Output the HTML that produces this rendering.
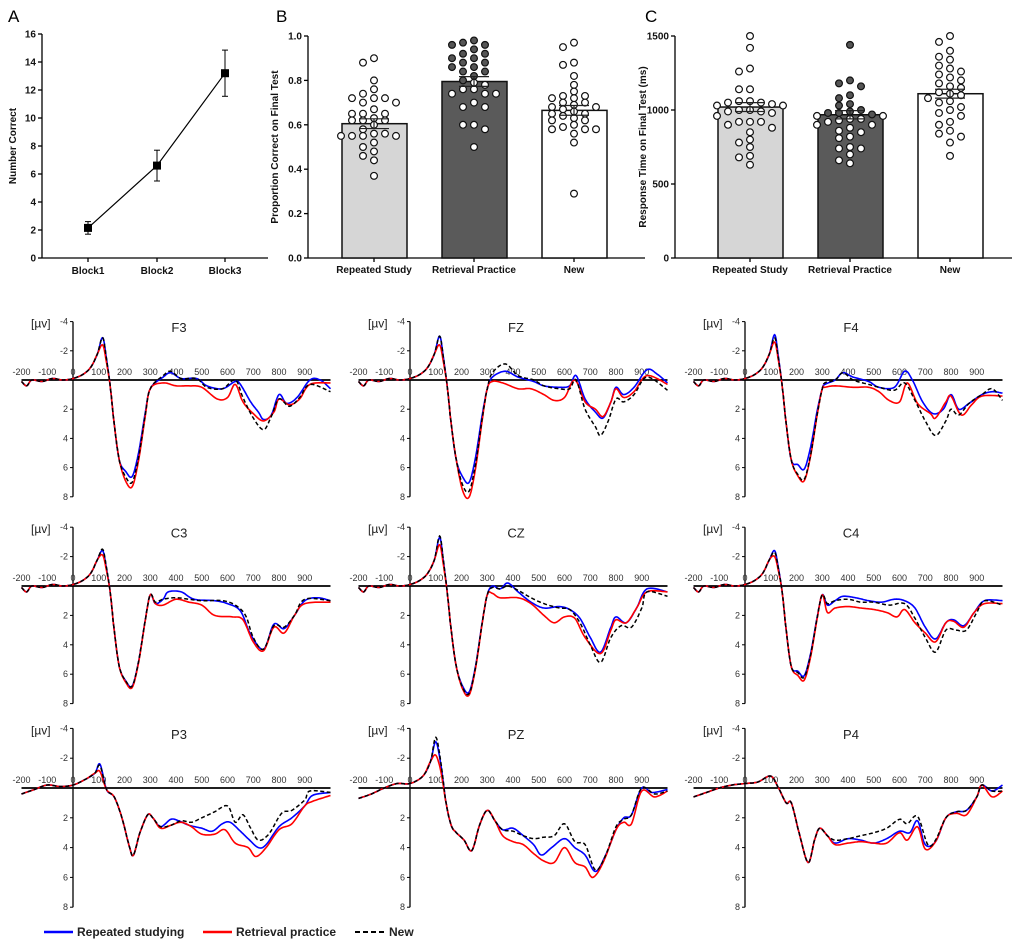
<!DOCTYPE html>
<html><head><meta charset="utf-8"><style>
html,body{margin:0;padding:0;background:#fff;}
svg{display:block;font-family:"Liberation Sans",Arial,sans-serif;}
.b{font-weight:bold;font-size:10px;fill:#111}
.t{font-size:9px;fill:#333}
</style></head><body>
<svg id="s" width="1015" height="944" viewBox="0 0 1015 944" xmlns="http://www.w3.org/2000/svg">
<g id="static">
<text x="8" y="22" font-size="17">A</text>
<text x="276" y="22" font-size="17">B</text>
<text x="645" y="22" font-size="17">C</text>
<text class="b" transform="translate(16,146) rotate(-90)" text-anchor="middle" font-size="11">Number Correct</text>
<text class="b" transform="translate(278,147) rotate(-90)" text-anchor="middle" font-size="10.5">Proportion Correct on Final Test</text>
<text class="b" transform="translate(646,147) rotate(-90)" text-anchor="middle" font-size="10.5">Response Time on Final Test (ms)</text>
<text class="b" x="88" y="274" text-anchor="middle">Block1</text>
<text class="b" x="157" y="274" text-anchor="middle">Block2</text>
<text class="b" x="225" y="274" text-anchor="middle">Block3</text>
<text class="b" x="374" y="273" text-anchor="middle">Repeated Study</text>
<text class="b" x="474" y="273" text-anchor="middle">Retrieval Practice</text>
<text class="b" x="574" y="273" text-anchor="middle">New</text>
<text class="b" x="750" y="273" text-anchor="middle">Repeated Study</text>
<text class="b" x="850" y="273" text-anchor="middle">Retrieval Practice</text>
<text class="b" x="950" y="273" text-anchor="middle">New</text>
<line x1="44" y1="932" x2="73" y2="932" stroke="#00f" stroke-width="2.5"/>
<text x="77" y="936" font-size="12" font-weight="bold" fill="#222">Repeated studying</text>
<line x1="203" y1="932" x2="232" y2="932" stroke="#f00" stroke-width="2.5"/>
<text x="236" y="936" font-size="12" font-weight="bold" fill="#222">Retrieval practice</text>
<line x1="355" y1="932" x2="385" y2="932" stroke="#000" stroke-width="2" stroke-dasharray="5,3"/>
<text x="389" y="936" font-size="12" font-weight="bold" fill="#222">New</text>
</g>
</svg>
<script>
var S=document.getElementById('s'),NS='http://www.w3.org/2000/svg';
function el(t,a,txt){var e=document.createElementNS(NS,t);for(var k in a)e.setAttribute(k,a[k]);if(txt!=null)e.textContent=txt;S.appendChild(e);return e;}
function line(x1,y1,x2,y2,c,w){return el('line',{x1:x1,y1:y1,x2:x2,y2:y2,stroke:c||'#000','stroke-width':w||1.3});}
// Panel A
(function(){var ax=42,y0=258,sc=14;line(ax,34,ax,y0);line(ax,y0,268,y0);
for(var v=0;v<=16;v+=2){var y=y0-v*sc;line(ax-4,y,ax,y);el('text',{x:ax-6,y:y+3.5,'text-anchor':'end','class':'b'},v);}
var xs=[88,157,225],m=[2.15,6.6,13.2],e=[0.45,1.1,1.65];
xs.forEach(function(x){line(x,y0,x,y0+4);});
el('polyline',{points:xs.map(function(x,i){return x+','+(y0-m[i]*sc)}).join(' '),fill:'none',stroke:'#000','stroke-width':1.2});
xs.forEach(function(x,i){var a=y0-(m[i]+e[i])*sc,b=y0-(m[i]-e[i])*sc;line(x,a,x,b,'#000',1);line(x-3,a,x+3,a,'#000',1);line(x-3,b,x+3,b,'#000',1);
el('rect',{x:x-4,y:y0-m[i]*sc-4,width:8,height:8,fill:'#000'});});})();
function bars(ax,y0,top,maxv,ticks,fmt,cx,means,sems,fills,data){
 var sc=(y0-top)/maxv;line(ax,top,ax,y0);line(ax,y0,ax+337,y0);
 ticks.forEach(function(v){var y=y0-v*sc;line(ax-4,y,ax,y);el('text',{x:ax-6,y:y+3.5,'text-anchor':'end','class':'b'},fmt(v));});
 cx.forEach(function(x,i){line(x,y0,x,y0+4);var yt=y0-means[i]*sc;
  el('rect',{x:x-32,y:yt,width:65,height:y0-yt,fill:fills[i],stroke:'#111','stroke-width':1.5});
  var pl=[];data[i].forEach(function(v){var y=y0-v*sc,px=0;
   var cands=[0,-11,11,-22,22,-33,33,-44,44];for(var c=0;c<cands.length;c++){var ok=true;pl.forEach(function(p){if(Math.abs(p[0]-(x+cands[c]))<8&&Math.abs(p[1]-y)<6.5)ok=false;});if(ok){px=cands[c];break;}}
   pl.push([x+px,y]);});
  pl.forEach(function(p){var f=(i==1&&p[1]<yt)?'#555':'#fff';el('circle',{cx:p[0],cy:p[1],r:3.4,fill:f,stroke:'#111','stroke-width':1.2});});
  var a=y0-(means[i]+sems[i])*sc,b=y0-(means[i]-sems[i])*sc;line(x,a,x,b,'#222',1.2);line(x-15,a,x+15,a,'#222',1.2);line(x-15,b,x+15,b,'#222',1.2);
 });}
bars(308,258,36,1.0,[0,0.2,0.4,0.6,0.8,1.0],function(v){return v.toFixed(1)},[374,474,574],[0.605,0.795,0.665],[0.022,0.022,0.022],['#d6d6d6','#5a5a5a','#fff'],[
[0.9,0.88,0.8,0.76,0.74,0.72,0.72,0.72,0.7,0.7,0.67,0.65,0.65,0.65,0.63,0.62,0.62,0.62,0.6,0.58,0.56,0.56,0.55,0.55,0.55,0.55,0.52,0.5,0.48,0.46,0.44,0.37],
[0.98,0.97,0.96,0.96,0.94,0.92,0.92,0.9,0.9,0.88,0.88,0.86,0.86,0.84,0.84,0.82,0.8,0.79,0.78,0.76,0.76,0.74,0.74,0.74,0.7,0.68,0.68,0.6,0.6,0.58,0.5],
[0.97,0.95,0.88,0.87,0.82,0.78,0.75,0.73,0.73,0.72,0.72,0.7,0.7,0.69,0.68,0.68,0.67,0.66,0.65,0.65,0.64,0.63,0.62,0.62,0.6,0.59,0.58,0.58,0.58,0.56,0.52,0.29]]);
bars(675,258,36,1500,[0,500,1000,1500],function(v){return v},[750,850,950],[1020,968,1110],[30,28,30],['#d6d6d6','#5a5a5a','#fff'],[
[1500,1420,1280,1260,1140,1140,1060,1060,1050,1050,1040,1030,1030,1000,1000,990,990,980,960,920,920,920,900,880,850,800,780,750,690,680,630],
[1440,1200,1180,1160,1100,1080,1040,1030,1000,990,980,980,970,960,960,940,940,930,920,900,900,880,860,850,820,810,750,740,740,700,660,640],
[1500,1460,1400,1360,1340,1300,1280,1260,1240,1220,1200,1180,1160,1150,1120,1110,1100,1080,1060,1050,1020,1000,980,960,920,900,860,840,820,780,690]]);
// ERP
function early(p,n){return [[-200,0.1],[-180,0.4],[-160,0],[-120,0.1],[-80,-0.1],[-40,0],[0,-0.1],[40,-0.4],[70,-0.9],[95,-1.8],[115,-p],[130,-p*0.5],[145,0.5],[160,3],[180,5.5],[205,0.95*n],[230,n],[255,0.75*n],[280,0.35*n],[300,0.6]];}
function spl(pts){var o=[];for(var i=0;i<pts.length-1;i++){var p0=pts[Math.max(0,i-1)],p1=pts[i],p2=pts[i+1],p3=pts[Math.min(pts.length-1,i+2)];
 for(var t=0;t<1;t+=0.1){var t2=t*t,t3=t2*t;var f=function(a,b,c,d){return 0.5*(2*b+(-a+c)*t+(2*a-5*b+4*c-d)*t2+(-a+3*b-3*c+d)*t3)};o.push([f(p0[0],p1[0],p2[0],p3[0]),f(p0[1],p1[1],p2[1],p3[1])]);}}
 o.push(pts[pts.length-1]);return o;}
function erp(x0,z,sc,title,series){
 var X=function(ms){return x0+ms*0.2575},Y=function(v){return z+v*sc};
 line(x0,Y(-4),x0,Y(8),'#000',1.3);line(X(-200),z,X(1000),z,'#000',1.8);
 [-4,-2,2,4,6,8].forEach(function(v){line(x0-3,Y(v),x0,Y(v),'#000',1);el('text',{x:x0-5,y:Y(v)+3,'text-anchor':'end','class':'t'},v);});
 for(var m=-200;m<=900;m+=100){el('text',{x:X(m),y:z-5,'text-anchor':'middle','class':'t'},m);}
 el('text',{x:x0-42,y:Y(-4)+6,'font-size':12,fill:'#222'},'[µv]');
 el('text',{x:x0+106,y:Y(-3.3),'text-anchor':'middle','font-size':13,fill:'#222'},title);
 var cols=['#00f','#f00','#000'];
 series.forEach(function(s,i){var pts=spl(s);el('polyline',{points:pts.map(function(p){return X(p[0]).toFixed(1)+','+Y(p[1]).toFixed(1)}).join(' '),fill:'none',stroke:cols[i],'stroke-width':i==2?1.5:1.6,'stroke-dasharray':i==2?'4,2.5':'none'});});
}
function E(p,n,late){return early(p,n).concat(late);}
var cols=[73,410,745];
erp(cols[0],380,14.6,'F3',[
E(2.9,6.6,[[350,-0.2],[380,-0.5],[420,-0.1],[480,-0.1],[520,0.4],[580,0.6],[630,0.1],[650,0.3],[690,1.5],[720,2.2],[740,2.7],[770,2.4],[800,1],[830,1.6],[870,1.2],[920,0],[960,0],[1000,0.6]]),
E(2.4,7.3,[[350,0.2],[400,0.4],[450,0.4],[500,0.5],[560,1.3],[600,1.2],[630,0.3],[660,1.5],[700,2.3],[740,2.8],[780,2.2],[800,1.3],[840,1.7],[880,1.3],[920,0.3],[1000,0.2]]),
E(2.9,7.0,[[350,-0.3],[380,-0.6],[420,-0.1],[480,-0.1],[520,0.5],[580,0.6],[630,0],[660,1.2],[700,2.6],[740,3.4],[770,2.5],[800,1.3],[840,1.8],[880,1.2],[920,0.3],[1000,0.8]])]);
erp(cols[1],380,14.6,'FZ',[
E(3.0,7.0,[[320,-0.2],[370,-0.6],[420,-0.2],[480,0.1],[520,0.4],[580,0.5],[620,0.4],[645,-0.3],[680,1.3],[720,2.2],[750,2.6],[780,1.5],[800,0.5],[830,1.0],[870,0.5],[920,-0.7],[960,-0.4],[1000,0.2]]),
E(2.4,8.0,[[320,0.1],[360,0.2],[420,0.6],[470,0.6],[520,1.0],[560,1.4],[600,1.2],[640,0],[680,1.5],[720,2.0],[750,2.5],[780,1.5],[800,0.6],[830,1.2],[870,0.8],[920,-0.3],[1000,0.3]]),
E(3.0,7.6,[[320,-0.5],[370,-1.1],[420,-0.3],[480,0],[520,0.4],[580,0.6],[620,0.6],[645,0],[680,2.0],[720,3.2],[740,3.8],[770,2.8],[800,1.3],[830,1.5],[870,1.0],[920,-0.2],[1000,0.7]])]);
erp(cols[2],380,14.6,'F4',[
E(3.1,6.1,[[310,0.3],[350,0],[380,-0.5],[420,-0.2],[480,0.1],[520,0.5],[580,0.5],[620,-0.6],[650,0],[690,1.5],[730,2.3],[770,2.0],[800,1.0],[830,2.0],[870,1.6],[920,1.0],[960,0.8],[1000,0.9]]),
E(2.6,6.9,[[310,0.5],[350,0.4],[420,0.5],[480,0.5],[520,0.8],[560,1.4],[600,1.5],[630,0.2],[670,1.6],[720,2.3],[740,2.6],[780,1.5],[800,1.1],[840,2.4],[880,1.7],[920,1.1],[1000,1.1]]),
E(2.9,6.8,[[310,0.2],[350,0],[380,-0.5],[420,0],[480,0.3],[520,0.5],[580,0.7],[620,0.2],[660,1.4],[700,2.8],[740,3.8],[780,2.8],[800,2.0],[830,2.4],[870,1.6],[920,1.0],[960,0.6],[1000,1.4]])]);
erp(cols[0],586,14.7,'C3',[
E(2.4,6.8,[[320,1.2],[350,0.9],[370,0.4],[420,0.4],[470,0.9],[550,1.0],[600,1.2],[650,1.7],[690,3.3],[740,4.3],[780,2.6],[820,2.9],[860,2.0],[900,1.0],[950,0.8],[1000,1.0]]),
E(2.1,6.9,[[320,1.2],[350,1.3],[400,0.9],[450,1.1],[500,1.3],[550,2.0],[620,2.1],[660,2.3],[700,3.8],[740,4.4],[780,2.8],[820,3.2],[860,2.0],[900,1.2],[1000,1.1]]),
E(2.5,6.8,[[320,1.1],[350,0.9],[400,0.8],[450,0.9],[500,1.0],[580,1.0],[630,1.3],[670,2.0],[700,3.5],[740,4.3],[780,2.7],[820,2.8],[860,2.0],[900,0.9],[1000,1.0]])]);
erp(cols[1],586,14.7,'CZ',[
E(3.3,7.2,[[320,0],[350,0.2],[380,-0.2],[420,0.4],[470,1.1],[520,1.5],[580,1.4],[620,1.6],[660,2.2],[700,3.5],[740,4.5],[780,2.8],[800,2.1],[840,2.5],[880,1.5],[920,0.2],[1000,0.4]]),
E(2.8,7.4,[[320,0.5],[350,0.8],[420,0.8],[470,1.2],[520,2.0],[560,2.5],[600,2.1],[640,2.2],[680,3.5],[740,4.6],[780,3.0],[800,2.3],[840,2.5],[880,1.5],[920,0.4],[1000,0.4]]),
E(3.4,7.3,[[320,0.1],[350,0.2],[380,0],[420,0.3],[470,0.8],[520,1.2],[580,1.5],[620,1.6],[660,2.5],[700,4.0],[740,5.2],[780,3.5],[820,2.7],[860,2.8],[900,1.5],[920,0.4],[1000,0.7]])]);
erp(cols[2],586,14.7,'C4',[
E(2.4,6.1,[[320,1.3],[350,1.0],[380,0.7],[430,0.8],[480,1.0],[530,1.1],[580,0.9],[620,1.0],[660,1.5],[700,2.8],[740,3.6],[780,2.5],[810,2.3],[850,2.7],[890,1.8],[930,1.0],[1000,1.0]]),
E(2.0,6.4,[[320,1.8],[350,1.5],[400,1.4],[450,1.5],[500,1.6],[550,1.8],[590,2.1],[620,1.6],[660,2.5],[700,3.2],[740,3.8],[780,2.5],[810,2.4],[850,2.8],[890,1.8],[930,1.2],[1000,1.2]]),
E(2.3,6.2,[[320,1.2],[350,1.0],[400,0.9],[450,1.1],[500,1.1],[560,1.3],[620,1.2],[660,2.2],[700,3.5],[740,4.5],[780,3.0],[820,3.0],[860,3.0],[900,1.8],[930,1.0],[1000,1.3]])]);
function P3e(p){return [[-200,0.4],[-150,0.1],[-100,-0.2],[-50,-0.1],[0,-0.2],[50,-0.6],[85,-1.0],[105,-p],[130,0.1],[160,0.6],[190,2.0],[220,4.0],[235,4.5],[260,3.0],[290,1.8],[310,2.0]];}
erp(cols[0],788,14.9,'P3',[
P3e(1.6).concat([[340,2.6],[380,2.1],[410,2.2],[450,2.5],[500,2.7],[540,2.9],[580,2.4],[610,2.3],[650,2.9],[680,3.4],[720,4.0],[750,3.8],[800,2.6],[850,2.0],[900,1.2],[930,0.5],[1000,0.3]]),
P3e(1.1).concat([[340,2.7],[380,2.5],[420,2.3],[460,2.6],[500,3.1],[550,3.1],[590,2.8],[630,3.7],[680,4.0],[710,4.6],[750,4.0],[800,2.8],[850,2.4],[900,1.2],[930,0.9],[1000,0.5]]),
P3e(1.5).concat([[340,2.6],[380,2.5],[420,2.2],[460,2.3],[500,2.0],[550,1.6],[600,1.2],[630,2.3],[660,1.8],[690,2.7],[720,3.5],[760,3.1],[810,1.7],[850,1.5],[900,0.8],[920,0.2],[1000,0.3]])]);
function PZe(p){return [[-200,0.7],[-150,0.4],[-100,0],[-50,-0.3],[0,-0.3],[50,-0.8],[80,-1.8],[100,-p],[120,-p*0.5],[140,1],[160,2.5],[180,3],[210,3.5],[240,4.2],[270,2.5],[300,1.5],[330,2.2]];}
erp(cols[1],788,14.9,'PZ',[
PZe(3.1).concat([[360,2.8],[400,2.7],[440,3.2],[480,3.8],[510,4.5],[550,4.0],[600,3.4],[640,4.0],[680,4.5],[720,5.6],[760,4.5],[800,2.8],[830,2.0],[860,1.8],[900,0],[940,0.3],[1000,0.1]]),
PZe(2.2).concat([[360,3.2],[400,3.6],[440,3.8],[480,4.4],[520,4.9],[560,5.0],[600,4.0],[640,5.0],[680,5.3],[710,6.0],[750,5.0],[800,2.8],[830,2.3],[860,2.4],[900,0.2],[950,0.6],[1000,0.2]]),
PZe(3.4).concat([[360,2.8],[400,2.9],[440,3.2],[480,3.4],[520,3.3],[560,3.2],[600,2.4],[640,3.6],[680,3.8],[720,5.5],[760,4.5],[800,2.6],[830,2.1],[860,1.8],[900,0],[950,0.4],[1000,0.2]])]);
function P4e(){return [[-200,0.6],[-150,0.3],[-100,0],[-50,-0.2],[0,-0.3],[50,-0.4],[100,-0.8],[130,0],[160,1.0],[180,1.0],[210,3.0],[245,5.0],[270,3.5],[290,2.7],[320,3.2]];}
erp(cols[2],788,14.9,'P4',[
P4e().concat([[350,3.7],[400,3.4],[450,3.5],[500,3.7],[550,3.4],[600,2.9],[640,3.0],[670,2.2],[700,3.8],[740,3.6],[780,2.0],[820,1.6],[860,1.5],[900,0.6],[920,-0.2],[960,0.2],[1000,-0.2]]),
P4e().concat([[350,3.8],[400,3.7],[450,3.6],[500,3.7],[550,3.7],[600,3.0],[630,3.5],[670,2.6],[700,4.1],[740,3.6],[780,2.0],[820,1.7],[860,1.8],[900,0.6],[920,-0.2],[960,0.6],[1000,0.2]]),
P4e().concat([[350,3.5],[400,3.4],[450,3.2],[500,3.0],[550,2.7],[600,2.1],[630,2.4],[670,1.9],[710,3.8],[740,3.5],[780,2.0],[820,1.6],[860,1.5],[900,0.6],[920,-0.2],[960,0.2],[1000,0.2]])]);
</script>
</body></html>
